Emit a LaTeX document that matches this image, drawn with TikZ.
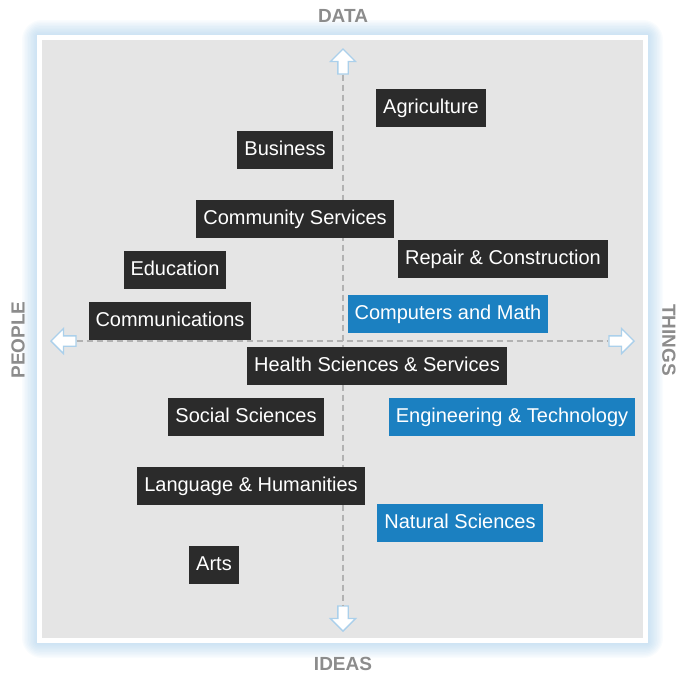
\documentclass[tikz,border=0pt]{standalone}
\usepackage{fontspec}
\setsansfont{Liberation Sans}
\usetikzlibrary{shapes.arrows}

\definecolor{fielddark}{RGB}{43,43,43}
\definecolor{fieldblue}{RGB}{27,128,193}
\definecolor{panelgray}{RGB}{229,229,229}
\definecolor{glowblue}{RGB}{150,196,230}
\definecolor{axisgray}{RGB}{140,140,140}
\definecolor{dashgray}{RGB}{178,178,178}

\begin{document}
\begin{tikzpicture}[x=1pt, y=-1pt,
    field/.style={fill=fielddark, text=white, font=\sffamily\fontsize{20}{23}\selectfont,
        inner xsep=7pt, inner ysep=0pt, minimum height=38pt, text height=14.5pt, text depth=4pt},
    techfield/.style={field, fill=fieldblue},
    axislabel/.style={text=axisgray, font=\sffamily\bfseries\fontsize{19}{21}\selectfont},
    axisarrow/.style={single arrow, fill=white, draw=glowblue!80, line width=1.3pt,
        minimum height=25pt, minimum width=24pt, inner sep=4.5pt,
        single arrow head extend=7.5pt},
    axisline/.style={dashgray, dash pattern=on 6pt off 4pt, line width=1.1pt}]
    \useasboundingbox (0,0) rectangle (687,675);

    % Soft blue glow round the frame
    \foreach \g in {1,...,10} {
        \fill[glowblue, opacity=0.06, rounded corners=2*\g pt]
            (37-1.5*\g,35-1.5*\g) rectangle (648+1.5*\g,643+1.5*\g);
    }

    % White frame and grey panel
    \fill[white] (37,35) rectangle (648,643);
    \fill[panelgray] (42,40) rectangle (643,638);

    % Axis arrows
    \node[axisarrow, shape border rotate=90]  (data)   at (343,64)  {};
    \node[axisarrow, shape border rotate=270] (ideas)  at (343,616) {};
    \node[axisarrow, shape border rotate=180] (people) at (66,341)  {};
    \node[axisarrow, shape border rotate=0]   (things) at (619,341) {};

    % Dashed axes
    \draw[axisline] (data.tail) -- (ideas.tail);
    \draw[axisline] (people.tail) -- (things.tail);

    % Axis labels
    \node[axislabel] (dataLabel)   at (343,16)  {DATA};
    \node[axislabel] (ideasLabel)  at (343,664) {IDEAS};
    \node[axislabel, rotate=90]  (peopleLabel) at (18,340)  {PEOPLE};
    \node[axislabel, rotate=-90] (thingsLabel) at (669,340) {THINGS};

    % Career fields
    \node[field] (agri)   at (431,108) {Agriculture};
    \node[field] (bus)    at (285,150) {Business};
    \node[field] (comm)   at (295,219) {Community Services};
    \node[field] (edu)    at (175,270) {Education};
    \node[field] (repair) at (503,259) {Repair \& Construction};
    \node[techfield] (cmath) at (448,314) {Computers and Math};
    \node[field] (commun) at (170,321) {Communications};
    \node[field] (health) at (377,366) {Health Sciences \& Services};
    \node[field] (social) at (246,417) {Social Sciences};
    \node[techfield] (eng) at (512,417) {Engineering \& Technology};
    \node[field] (lang)   at (251,486) {Language \& Humanities};
    \node[techfield] (natsci) at (460,523) {Natural Sciences};
    \node[field] (arts)   at (214,565) {Arts};

\end{tikzpicture}
\end{document}
